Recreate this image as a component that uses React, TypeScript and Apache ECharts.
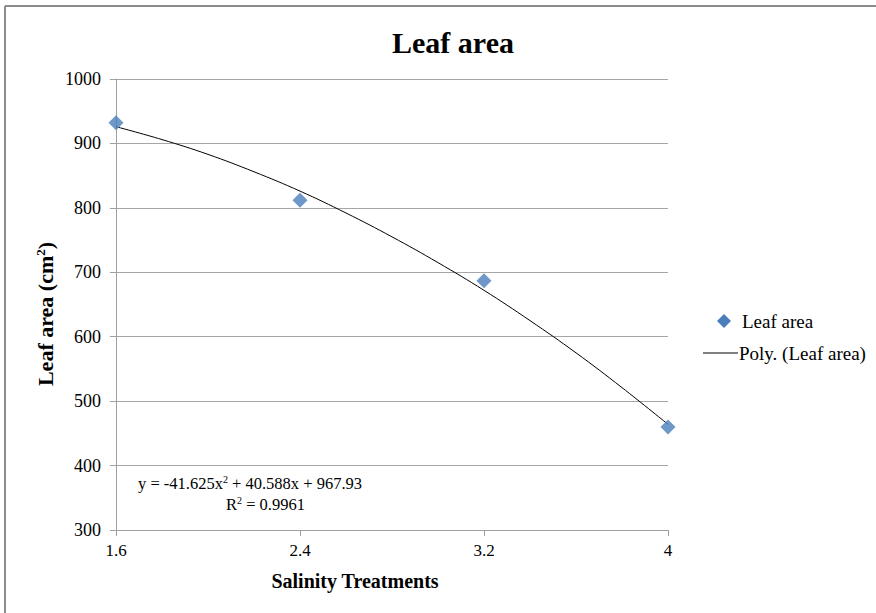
import React, { useEffect, useRef } from "react";
import * as echarts from "echarts";

const treatments = [1.6, 2.4, 3.2, 4];
const leafArea = [932, 812, 687, 460];
const trendX = [1.6, 1.8, 2.0, 2.2, 2.4, 2.6, 2.8, 3.0, 3.2, 3.4, 3.6, 3.8, 4.0];
const trendY = [926, 906, 883, 856, 826, 792, 755, 715, 672, 625, 575, 521, 464];
const xTicks = [1.6, 2.4, 3.2, 4];
const yTicks = [300, 400, 500, 600, 700, 800, 900, 1000];

const FONT = "Liberation Serif";

export default function App() {
  const ref = useRef<HTMLDivElement>(null);
  useEffect(() => {
    document.body.style.margin = "0";
    const chart = echarts.init(ref.current!, null, { renderer: "svg" });
    const gridLeft = 116, gridTop = 79, gridW = 552, gridH = 451;
    chart.setOption({
      animation: false,
      backgroundColor: "#fff",
      textStyle: { fontFamily: FONT },
      title: {
        text: "Leaf area",
        left: 448,
        top: 22,
        textAlign: "center",
        textStyle: { fontFamily: FONT, fontSize: 30, fontWeight: "bold", color: "#000" },
      },
      grid: { left: gridLeft, top: gridTop, width: gridW, height: gridH },
      xAxis: {
        type: "value",
        min: xTicks[0],
        max: xTicks[xTicks.length - 1],
        interval: 0.8,
        axisLine: { show: true, lineStyle: { color: "#a0a0a0", width: 1 } },
        axisTick: { show: true, length: 6, inside: false, lineStyle: { color: "#a0a0a0" } },
        axisLabel: {
          margin: 12,
          fontFamily: FONT,
          fontSize: 17,
          color: "#000",
          formatter: (v: number) => String(Math.round(v * 10) / 10),
        },
        splitLine: { show: false },
      },
      yAxis: {
        type: "value",
        min: yTicks[0],
        max: yTicks[yTicks.length - 1],
        interval: 100,
        axisLine: { show: true, lineStyle: { color: "#a0a0a0", width: 1 } },
        axisTick: { show: true, length: 6, inside: false, lineStyle: { color: "#a0a0a0" } },
        axisLabel: { margin: 15, fontFamily: FONT, fontSize: 18, color: "#000", formatter: (v: number) => String(v) },
        splitLine: { show: true, lineStyle: { color: "#a6a6a6", width: 1 } },
      },
      series: [
        {
          name: "Poly. (Leaf area)",
          type: "line",
          data: trendX.map((x, i) => [x, trendY[i]]),
          smooth: 0.4,
          showSymbol: false,
          symbol: "none",
          lineStyle: { color: "#000", width: 1 },
          z: 2,
        },
        {
          name: "Leaf area",
          type: "scatter",
          data: treatments.map((x, i) => [x, leafArea[i]]),
          symbol: "diamond",
          symbolSize: 15,
          itemStyle: { color: "#4a7ebb" },
          z: 3,
        },
      ],
      graphic: [
        { type: "line", shape: { x1: 5, y1: 6, x2: 876, y2: 6 }, style: { stroke: "#8c8c8c", lineWidth: 2 } },
        { type: "line", shape: { x1: 5, y1: 6, x2: 5, y2: 613 }, style: { stroke: "#8c8c8c", lineWidth: 2 } },
        {
          type: "text",
          x: 45,
          y: 314,
          rotation: Math.PI / 2,
          style: {
            text: "{b|Leaf area (cm}{s|2}{b|)}",
            align: "center",
            verticalAlign: "middle",
            rich: {
              b: { fontFamily: FONT, fontSize: 22, fontWeight: "bold", fill: "#000" },
              s: { fontFamily: FONT, fontSize: 13, fontWeight: "bold", fill: "#000", verticalAlign: "top", padding: [0, 0, 10, 0] },
            },
          },
        },
        {
          type: "text",
          x: 355,
          y: 581,
          style: {
            text: "Salinity Treatments",
            align: "center",
            verticalAlign: "middle",
            font: `bold 20px ${FONT}`,
            fill: "#000",
          },
        },
        {
          type: "polygon",
          shape: { points: [[724, 314], [731, 321], [724, 328], [717, 321]] },
          style: { fill: "#4a7ebb" },
        },
        {
          type: "text",
          x: 742,
          y: 321,
          style: { text: "Leaf area", verticalAlign: "middle", font: `19px ${FONT}`, fill: "#000" },
        },
        { type: "line", shape: { x1: 703, y1: 353, x2: 738, y2: 353 }, style: { stroke: "#000", lineWidth: 1 } },
        {
          type: "text",
          x: 739,
          y: 353,
          style: { text: "Poly. (Leaf area)", verticalAlign: "middle", font: `19px ${FONT}`, fill: "#000" },
        },
        {
          type: "text",
          left: 138,
          top: 474,
          style: {
            text: "{n|y = -41.625x}{s|2}{n| + 40.588x + 967.93}",
            rich: {
              n: { fontFamily: FONT, fontSize: 16.5, fill: "#000" },
              s: { fontFamily: FONT, fontSize: 10, fill: "#000", verticalAlign: "top", padding: [0, 0, 8, 0] },
            },
          },
        },
        {
          type: "text",
          left: 226,
          top: 495,
          style: {
            text: "{n|R}{s|2}{n| = 0.9961}",
            rich: {
              n: { fontFamily: FONT, fontSize: 16.5, fill: "#000" },
              s: { fontFamily: FONT, fontSize: 10, fill: "#000", verticalAlign: "top", padding: [0, 0, 8, 0] },
            },
          },
        },
      ],
    });
    return () => chart.dispose();
  }, []);
  return <div ref={ref} style={{ position: "absolute", left: 0, top: 0, width: 876, height: 613 }} />;
}
